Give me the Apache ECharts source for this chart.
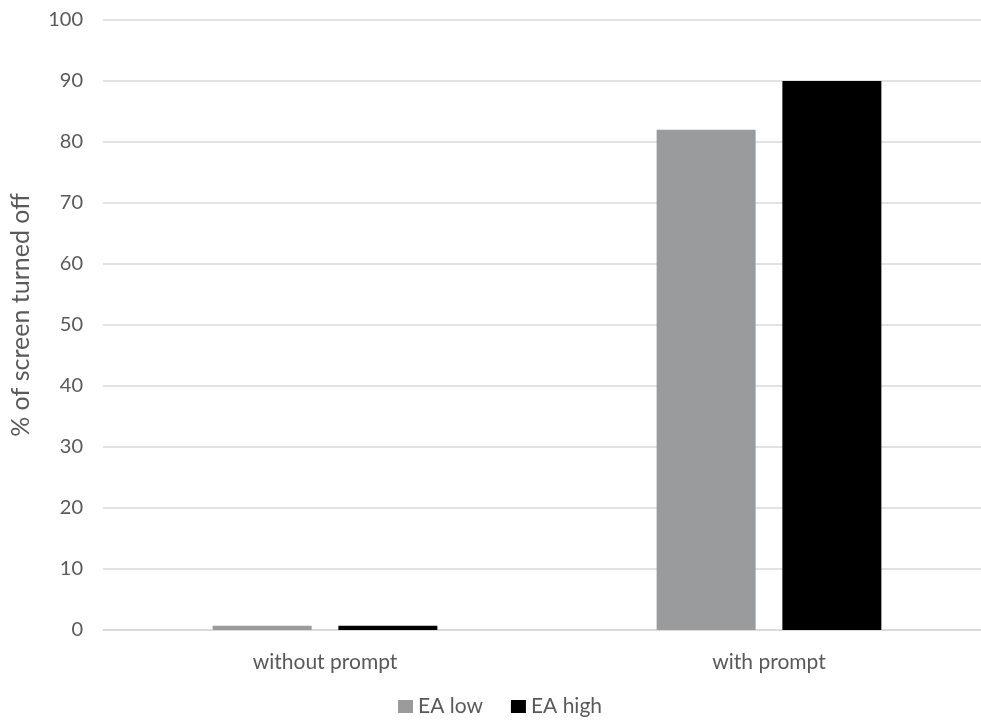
<!DOCTYPE html>
<html>
<head>
<meta charset="utf-8">
<script src="https://cdn.jsdelivr.net/npm/echarts@6/dist/echarts.min.js"></script>
<style>
  html, body { margin: 0; padding: 0; background: #ffffff; }
  #chart { width: 981px; height: 725px; }
</style>
</head>
<body>
<div id="chart"></div>
<script>
// Share of screens turned off, by prompt condition and EA group
const categories = ['without prompt', 'with prompt'];
const eaLow = [0.7, 82];
const eaHigh = [0.7, 90];
const seriesNames = ['EA low', 'EA high'];
const yTicks = { min: 0, max: 100, interval: 10 };

const textColor = '#595959';
const gridColor = '#d9d9d9';
const font = 'Lato, "Liberation Sans", sans-serif';

const chart = echarts.init(document.getElementById('chart'), null, { renderer: 'canvas' });
chart.setOption({
  animation: false,
  backgroundColor: '#ffffff',
  textStyle: { fontFamily: font },
  grid: {
    left: 103, width: 888, top: 20, bottom: 95,
    containLabel: false,
    outerBoundsMode: 'none'
  },
  legend: {
    data: seriesNames,
    bottom: 3,
    left: 393,
    itemWidth: 15,
    itemHeight: 13,
    itemGap: 28,
    icon: 'rect',
    textStyle: { color: textColor, fontSize: 21, fontFamily: font }
  },
  xAxis: {
    type: 'category',
    data: categories,
    axisLine: { show: true, lineStyle: { color: gridColor, width: 1.5 } },
    axisTick: { show: false },
    axisLabel: { color: textColor, fontSize: 21, fontFamily: font, margin: 22 }
  },
  yAxis: {
    type: 'value',
    min: yTicks.min,
    max: yTicks.max,
    interval: yTicks.interval,
    name: '% of screen turned off',
    nameLocation: 'middle',
    nameGap: 70,
    nameTextStyle: { color: textColor, fontSize: 25, fontFamily: font, padding: [0, 0, 0, 20] },
    axisLine: { show: false },
    axisTick: { show: false },
    axisLabel: { color: textColor, fontSize: 20, fontFamily: font, margin: 20 },
    splitLine: { lineStyle: { color: gridColor, width: 1.5 } }
  },
  series: [
    {
      name: seriesNames[0],
      type: 'bar',
      data: eaLow,
      barWidth: 99,
      barGap: '27%',
      itemStyle: { color: '#999b9d' }
    },
    {
      name: seriesNames[1],
      type: 'bar',
      data: eaHigh,
      barWidth: 99,
      barGap: '27%',
      itemStyle: { color: '#000000' }
    }
  ]
});
</script>
</body>
</html>
